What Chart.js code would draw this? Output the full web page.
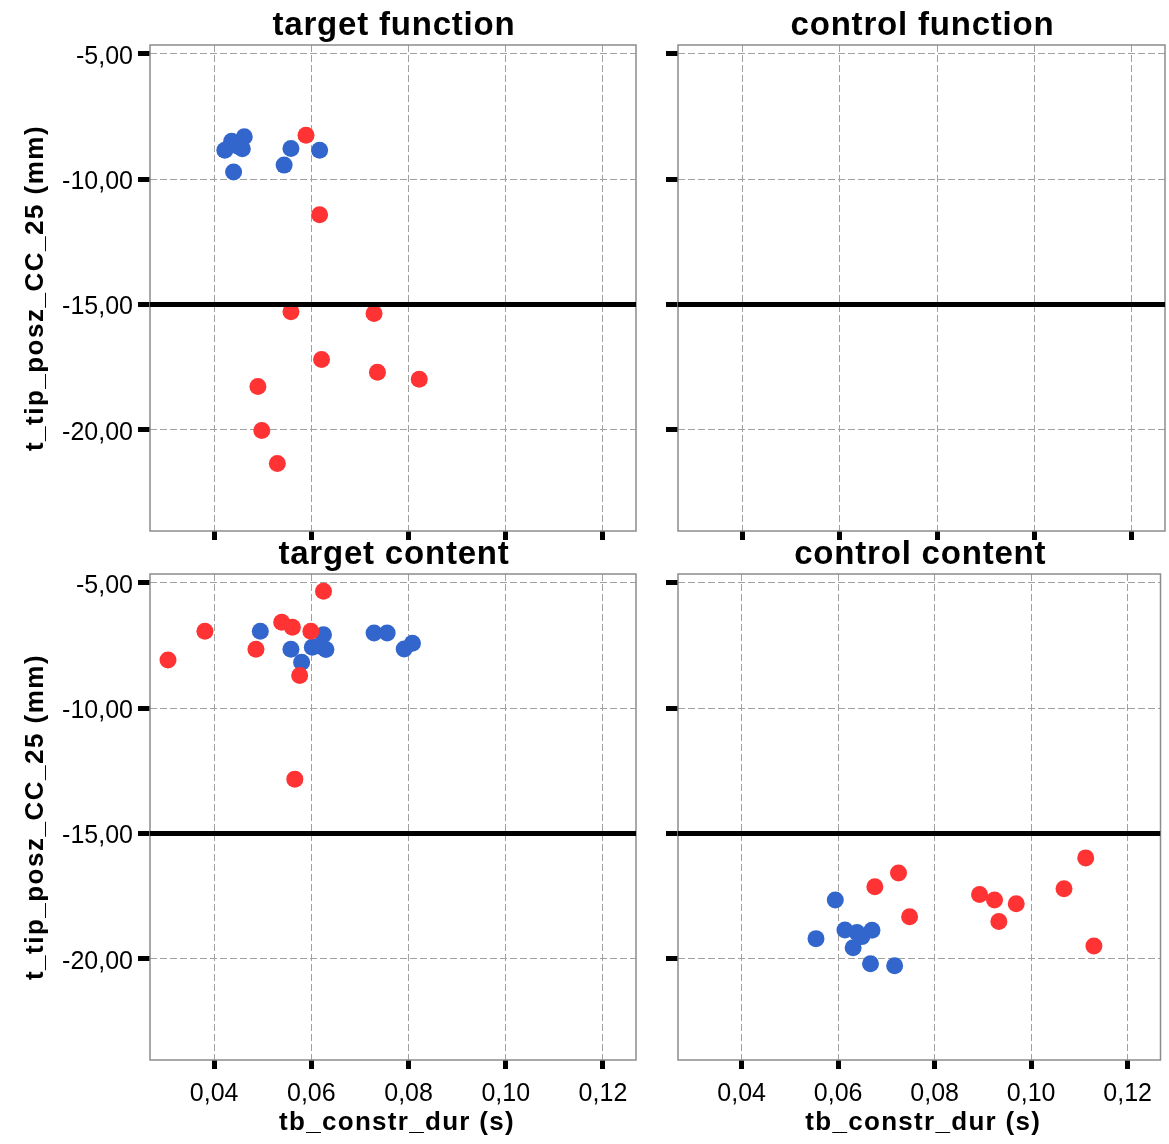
<!DOCTYPE html>
<html>
<head>
<meta charset="utf-8">
<script src="https://cdn.jsdelivr.net/npm/chart.js@4.4.1/dist/chart.umd.min.js"></script>
<style>
  body { margin: 0; background: #fff; }
  #wrap { position: relative; width: 1169px; height: 1144px; }
  #wrap canvas { position: absolute; left: 0; top: 0; }
</style>
</head>
<body>
<div id="wrap">
  <canvas id="c1" width="1169" height="1144"></canvas>
  <canvas id="c2" width="1169" height="1144"></canvas>
  <canvas id="c3" width="1169" height="1144"></canvas>
  <canvas id="c4" width="1169" height="1144"></canvas>
</div>
<script>
// axis settings
var xTicks = [0.04, 0.06, 0.08, 0.10, 0.12];
var yTicks = [-20, -15, -10, -5];
var xMin = 0.0268, xMax = 0.1268;
var yMin = -24.03, yMax = -4.65;
var refY = -15;

// target function
var tfBlueX = [0.0422, 0.0436, 0.0462, 0.0458, 0.0449, 0.0440, 0.0558, 0.0544, 0.0617];
var tfBlueY = [-8.85, -8.49, -8.31, -8.79, -8.69, -9.71, -8.78, -9.44, -8.85];
var tfRedX = [0.0589, 0.0617, 0.0558, 0.0729, 0.0621, 0.0736, 0.0822, 0.0490, 0.0498, 0.0530];
var tfRedY = [-8.25, -11.42, -15.29, -15.36, -17.19, -17.70, -17.98, -18.27, -20.02, -21.34];

// control function (empty)
var cfBlueX = [], cfBlueY = [];
var cfRedX = [], cfRedY = [];

// target content
var tcBlueX = [0.0495, 0.0558, 0.0580, 0.0602, 0.0616, 0.0625, 0.0630, 0.0729, 0.0756, 0.0791, 0.0808];
var tcBlueY = [-6.93, -7.65, -8.17, -7.57, -7.52, -7.07, -7.66, -7.00, -7.00, -7.64, -7.41];
var tcRedX = [0.0305, 0.0381, 0.0486, 0.0539, 0.0561, 0.0599, 0.0625, 0.0576, 0.0566];
var tcRedY = [-8.08, -6.93, -7.65, -6.57, -6.77, -6.93, -5.34, -8.70, -12.83];

// control content
var ccBlueX = [0.0554, 0.0594, 0.0614, 0.0639, 0.0649, 0.0670, 0.0631, 0.0667, 0.0717];
var ccBlueY = [-19.19, -17.65, -18.85, -18.95, -19.11, -18.86, -19.55, -20.19, -20.27];
var ccRedX = [0.0676, 0.0725, 0.0748, 0.0893, 0.0924, 0.0969, 0.0933, 0.1068, 0.1113, 0.1130];
var ccRedY = [-17.12, -16.57, -18.32, -17.43, -17.65, -17.80, -18.51, -17.20, -15.97, -19.48];

var xTitle = 'tb_constr_dur (s)';
var yTitle = 't_tip_posz_CC_25 (mm)';

var FONT = "'Liberation Sans', Arial, sans-serif";
var BLUE = '#3366cc';
var RED = '#ff3333';

function pts(xs, ys) {
    return xs.map(function (x, i) { return { x: x, y: ys[i] }; });
}

function fmt(v) {
    return Number(v).toFixed(2).replace('.', ',');
}

// frame + titles
var decor = {
    id: 'decor',
    beforeDatasetsDraw: function (chart) {
        var a = chart.chartArea, ctx = chart.ctx;
        ctx.save();
        ctx.strokeStyle = '#8c8c8c';
        ctx.lineWidth = 1.5;
        ctx.strokeRect(a.left, a.top, a.right - a.left, a.bottom - a.top);
        ctx.restore();
    },
    afterDraw: function (chart) {
        var a = chart.chartArea, ctx = chart.ctx;
        var o = chart.options.plugins.decor;
        var cx = (a.left + a.right) / 2;
        ctx.save();
        ctx.fillStyle = '#000';
        ctx.textAlign = 'center';
        ctx.textBaseline = 'alphabetic';
        ctx.letterSpacing = '0.8px';
        ctx.font = 'bold 33px ' + FONT;
        ctx.fillText(o.title, cx + 1, a.top - 10);

        ctx.font = 'bold 26px ' + FONT;
        ctx.letterSpacing = '1.3px';
        if (o.showX) {
            ctx.fillText(xTitle, cx + 4, a.bottom + 70);
        }
        if (o.showY) {
            ctx.translate(43, (a.top + a.bottom) / 2);
            ctx.rotate(-Math.PI / 2);
            ctx.letterSpacing = '1.5px';
            ctx.fillText(yTitle, 0, 0);
        }
        ctx.restore();
    }
};

function makePanel(id, title, area, showX, showY, bx, by, rx, ry) {
    var ctx = document.getElementById(id).getContext('2d');
    return new Chart(ctx, {
        type: 'scatter',
        data: {
            datasets: [
                {
                    type: 'line',
                    data: [{ x: xMin, y: refY }, { x: xMax, y: refY }],
                    borderColor: '#000',
                    borderWidth: 5,
                    pointRadius: 0,
                    order: 0
                },
                {
                    data: pts(rx, ry),
                    backgroundColor: RED,
                    borderWidth: 0,
                    pointRadius: 8.5,
                    order: 1
                },
                {
                    data: pts(bx, by),
                    backgroundColor: BLUE,
                    borderWidth: 0,
                    pointRadius: 8.5,
                    order: 1
                }
            ]
        },
        options: {
            responsive: false,
            animation: false,
            events: [],
            layout: {
                padding: { left: area.left - 150, top: area.top, right: 1169 - area.right, bottom: 0 }
            },
            plugins: {
                legend: { display: false },
                tooltip: { enabled: false },
                decor: { title: title, showX: showX, showY: showY }
            },
            scales: {
                x: {
                    type: 'linear',
                    min: xMin,
                    max: xMax,
                    afterBuildTicks: function (s) { s.ticks = xTicks.map(function (v) { return { value: v }; }); },
                    afterFit: function (s) { s.height = 1144 - area.bottom; },
                    grid: {
                        color: '#a0a0a0',
                        lineWidth: 1,
                        tickLength: 9,
                        tickWidth: 5,
                        tickColor: '#000',
                        tickBorderDash: []
                    },
                    border: { display: false, dash: [7, 3] },
                    ticks: {
                        display: showX,
                        padding: 10,
                        color: '#000',
                        font: { family: FONT, size: 25 },
                        maxRotation: 0,
                        autoSkip: false,
                        callback: function (v) { return fmt(v); }
                    }
                },
                y: {
                    type: 'linear',
                    min: yMin,
                    max: yMax,
                    afterBuildTicks: function (s) { s.ticks = yTicks.map(function (v) { return { value: v }; }); },
                    afterFit: function (s) { s.width = 150; },
                    grid: {
                        color: '#a0a0a0',
                        lineWidth: 1,
                        tickLength: 12,
                        tickWidth: 5,
                        tickColor: '#000',
                        tickBorderDash: []
                    },
                    border: { display: false, dash: [7, 3] },
                    ticks: {
                        display: showY,
                        padding: 5,
                        labelOffset: 3,
                        color: '#000',
                        font: { family: FONT, size: 25 },
                        autoSkip: false,
                        callback: function (v) { return fmt(v); }
                    }
                }
            }
        },
        plugins: [decor]
    });
}

makePanel('c1', 'target function', { left: 150, top: 45, right: 636, bottom: 531 }, false, true,
    tfBlueX, tfBlueY, tfRedX, tfRedY);
makePanel('c2', 'control function', { left: 678, top: 45, right: 1165, bottom: 531 }, false, false,
    cfBlueX, cfBlueY, cfRedX, cfRedY);
makePanel('c3', 'target content', { left: 150, top: 574, right: 636, bottom: 1060 }, true, true,
    tcBlueX, tcBlueY, tcRedX, tcRedY);
makePanel('c4', 'control content', { left: 678, top: 574, right: 1165, bottom: 1060 }, true, false,
    ccBlueX, ccBlueY, ccRedX, ccRedY);
</script>
</body>
</html>
